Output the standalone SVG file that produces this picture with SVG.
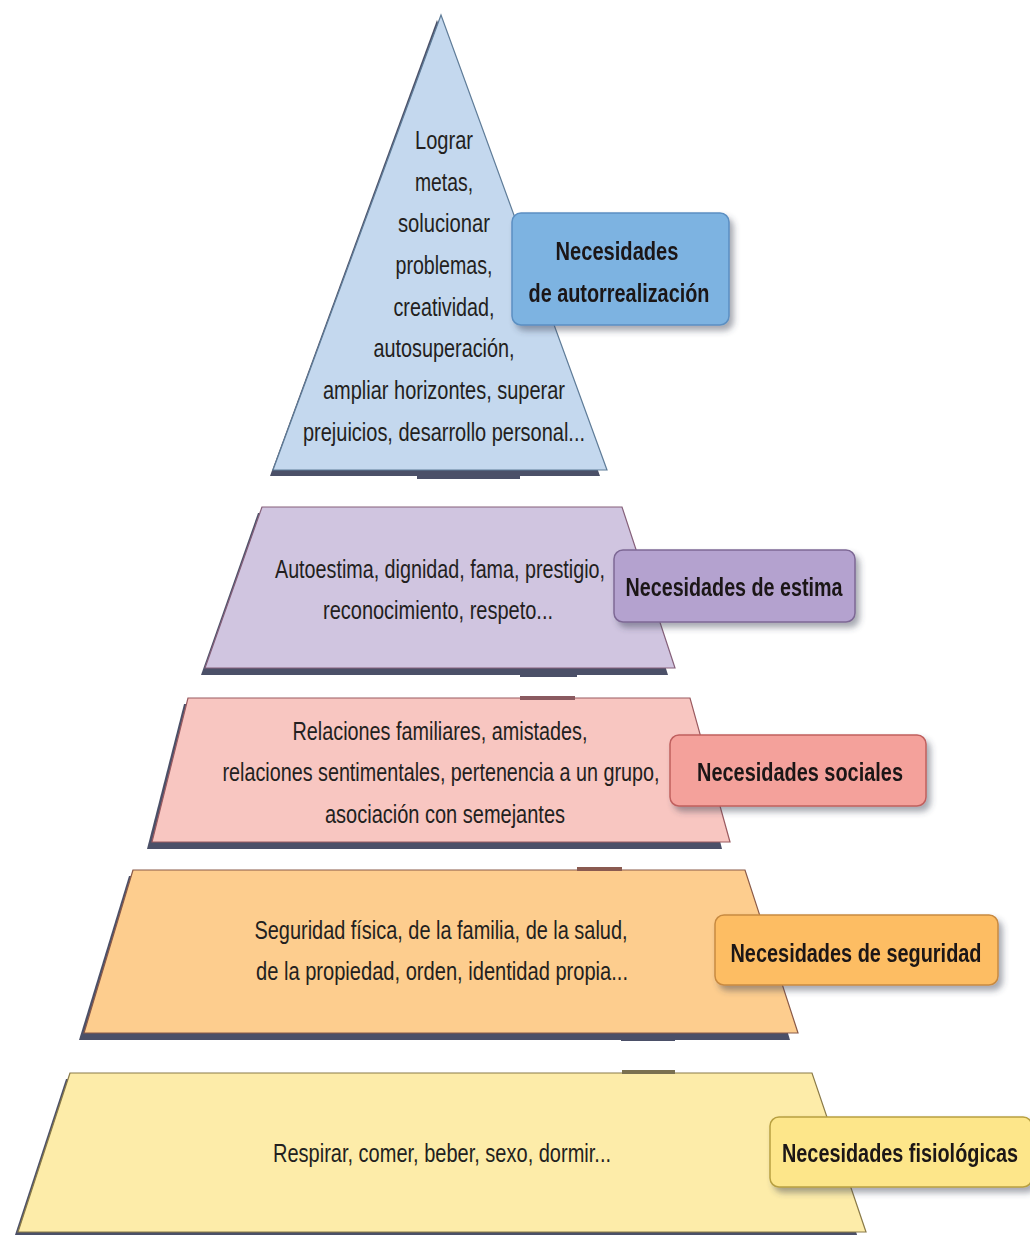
<svg xmlns="http://www.w3.org/2000/svg" width="1030" height="1235" viewBox="0 0 1030 1235">
<defs>
<filter id="ds" x="-10%" y="-20%" width="130%" height="160%">
<feDropShadow dx="4" dy="5" stdDeviation="3" flood-color="#3a3f55" flood-opacity="0.45"/>
</filter>
<style>
.t{font-family:"Liberation Sans Narrow","Liberation Sans",Arial,sans-serif;font-size:25px;fill:#231f20;text-anchor:middle}
.b{font-family:"Liberation Sans Narrow","Liberation Sans",Arial,sans-serif;font-size:25px;font-weight:bold;fill:#1a1718;text-anchor:middle}
.sh{fill:#4b5068}
.tab{fill:#4b5068}
</style>
</defs>
<rect width="1030" height="1235" fill="#ffffff"/>

<g id="tier-autorrealizacion">
<polygon class="sh" points="437,20 270,476 600,476"/>
<polygon points="441,15 273,470 607,470" fill="#c4d8ee" stroke="#5f7c98" stroke-width="1.2"/>
<text class="t" x="444" y="149" textLength="58" lengthAdjust="spacingAndGlyphs">Lograr</text>
<text class="t" x="444" y="191" textLength="58" lengthAdjust="spacingAndGlyphs">metas,</text>
<text class="t" x="444" y="232" textLength="92" lengthAdjust="spacingAndGlyphs">solucionar</text>
<text class="t" x="444" y="274" textLength="97" lengthAdjust="spacingAndGlyphs">problemas,</text>
<text class="t" x="444" y="316" textLength="101" lengthAdjust="spacingAndGlyphs">creatividad,</text>
<text class="t" x="444" y="357" textLength="141" lengthAdjust="spacingAndGlyphs">autosuperación,</text>
<text class="t" x="444" y="399" textLength="242" lengthAdjust="spacingAndGlyphs">ampliar horizontes, superar</text>
<text class="t" x="444" y="441" textLength="282" lengthAdjust="spacingAndGlyphs">prejuicios, desarrollo personal...</text>
</g>

<g id="tier-estima">
<polygon class="sh" points="258,513 201,675 668,675 618,513"/>
<polygon points="262,507 205,668 675,668 622,507" fill="#d0c5e0" stroke="#85607a" stroke-width="1.2"/>
<text class="t" x="440" y="578" textLength="330" lengthAdjust="spacingAndGlyphs">Autoestima, dignidad, fama, prestigio,</text>
<text class="t" x="438" y="619" textLength="230" lengthAdjust="spacingAndGlyphs">reconocimiento, respeto...</text>
</g>

<g id="tier-sociales">
<polygon class="sh" points="184,704 147,849 722,849 686,704"/>
<polygon points="188,698 152,842 730,842 690,698" fill="#f8c6c1" stroke="#9a5a60" stroke-width="1.2"/>
<text class="t" x="440" y="740" textLength="295" lengthAdjust="spacingAndGlyphs">Relaciones familiares, amistades,</text>
<text class="t" x="441" y="781" textLength="437" lengthAdjust="spacingAndGlyphs">relaciones sentimentales, pertenencia a un grupo,</text>
<text class="t" x="445" y="823" textLength="240" lengthAdjust="spacingAndGlyphs">asociación con semejantes</text>
</g>

<g id="tier-seguridad">
<polygon class="sh" points="129,876 79,1040 790,1040 741,876"/>
<polygon points="133,870 84,1033 798,1033 745,870" fill="#fdcd8e" stroke="#8a5a48" stroke-width="1.2"/>
<text class="t" x="441" y="939" textLength="373" lengthAdjust="spacingAndGlyphs">Seguridad física, de la familia, de la salud,</text>
<text class="t" x="442" y="980" textLength="372" lengthAdjust="spacingAndGlyphs">de la propiedad, orden, identidad propia...</text>
</g>

<g id="tier-fisiologicas">
<polygon class="sh" points="66,1079 14,1238 858,1238 808,1079"/>
<polygon points="70,1073 18,1232 866,1232 812,1073" fill="#fdeca9" stroke="#8a7a48" stroke-width="1.2"/>
<text class="t" x="442" y="1162" textLength="338" lengthAdjust="spacingAndGlyphs">Respirar, comer, beber, sexo, dormir...</text>
</g>

<g id="connectors">
<rect class="tab" x="417" y="473" width="103" height="6"/>
<rect class="tab" x="520" y="671" width="57" height="6"/>
<rect x="520" y="696" width="55" height="4" fill="#8a5a60"/>
<rect class="tab" x="577" y="843" width="48" height="6"/>
<rect x="577" y="867" width="45" height="4" fill="#8a5a50"/>
<rect class="tab" x="621" y="1035" width="54" height="6"/>
<rect x="622" y="1070" width="53" height="4" fill="#7a7050"/>
</g>

<g id="label-autorrealizacion" filter="url(#ds)">
<rect x="512" y="213" width="217" height="112" rx="9" fill="#7db3e1" stroke="#5b8fc2" stroke-width="1.5"/>
<text class="b" x="617" y="260" textLength="123" lengthAdjust="spacingAndGlyphs">Necesidades</text>
<text class="b" x="619" y="302" textLength="181" lengthAdjust="spacingAndGlyphs">de autorrealización</text>
</g>

<g id="label-estima" filter="url(#ds)">
<rect x="614" y="550" width="241" height="72" rx="9" fill="#b4a2cf" stroke="#7d6895" stroke-width="1.5"/>
<text class="b" x="734" y="596" textLength="217" lengthAdjust="spacingAndGlyphs">Necesidades de estima</text>
</g>

<g id="label-sociales" filter="url(#ds)">
<rect x="670" y="735" width="256" height="71" rx="9" fill="#f4a19b" stroke="#c0605e" stroke-width="1.5"/>
<text class="b" x="800" y="781" textLength="206" lengthAdjust="spacingAndGlyphs">Necesidades sociales</text>
</g>

<g id="label-seguridad" filter="url(#ds)">
<rect x="715" y="915" width="283" height="70" rx="9" fill="#fdbd64" stroke="#c88a40" stroke-width="1.5"/>
<text class="b" x="856" y="962" textLength="251" lengthAdjust="spacingAndGlyphs">Necesidades de seguridad</text>
</g>

<g id="label-fisiologicas" filter="url(#ds)">
<rect x="770" y="1117" width="262" height="70" rx="9" fill="#fde68a" stroke="#b8a040" stroke-width="1.5"/>
<text class="b" x="900" y="1162" textLength="236" lengthAdjust="spacingAndGlyphs">Necesidades fisiológicas</text>
</g>
</svg>
